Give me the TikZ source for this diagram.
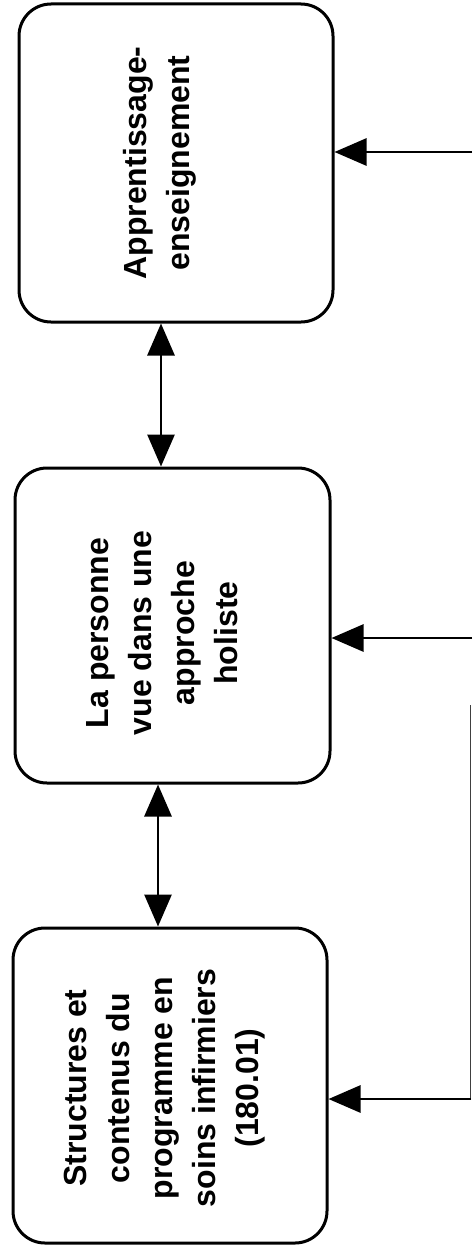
\documentclass[tikz,border=0pt]{standalone}
\usepackage{fontspec}
\setmainfont{Liberation Sans}
\usetikzlibrary{arrows.meta}
\begin{document}
\begin{tikzpicture}[x=1pt,y=-1pt,
  box/.style={draw, line width=3pt, rounded corners=32pt, inner sep=0pt},
  lbl/.style={rotate=90, align=center, inner sep=0pt,
    font=\bfseries\fontsize{32}{43}\selectfont},
  into/.style={-{Triangle[length=32pt,width=27pt]}, line width=2.8pt},
  both/.style={{Triangle[length=32pt,width=27pt]}-{Triangle[length=32pt,width=27pt]}, line width=2.8pt},
  feed/.style={line width=1pt, black!75}]
\useasboundingbox (0,0) rectangle (472,1247);

% three stacked boxes
\node[box, minimum width=314pt, minimum height=318pt] (b1) at (176,163) {};
\node[box, minimum width=315pt, minimum height=315pt] (b2) at (172.5,625.5) {};
\node[box, minimum width=314pt, minimum height=315pt] (b3) at (170,1085.5) {};

% labels, set sideways
\node[lbl] (t1) at (160,163) {Apprentissage-\\enseignement};
\node[lbl] (t2) at (162,633) {La personne\\vue dans une\\approche\\holiste};
\node[lbl] (t3) at (165,1088) {Structures et\\contenus du\\programme en\\soins infirmiers\\(180.01)};

% links between neighbouring boxes
\draw[both] ([xshift=-15pt]b1.south) -- ([xshift=-11.5pt]b2.north);
\draw[both] ([xshift=-14.5pt]b2.south) -- ([xshift=-12pt]b3.north);

% inputs from the right
\coordinate (r1) at (472,152);
\coordinate (r2) at (472,638);
\coordinate (r3) at (470.5,1099);
\coordinate (v0) at (470.5,705);
\draw[into] (r1) -- (b1.east |- r1);
\draw[into] (r2) -- (b2.east |- r2);
\draw[feed] (v0) -- (r3);
\draw[into] ([xshift=0.6pt]r3) -- (b3.east |- r3);
\end{tikzpicture}
\end{document}
